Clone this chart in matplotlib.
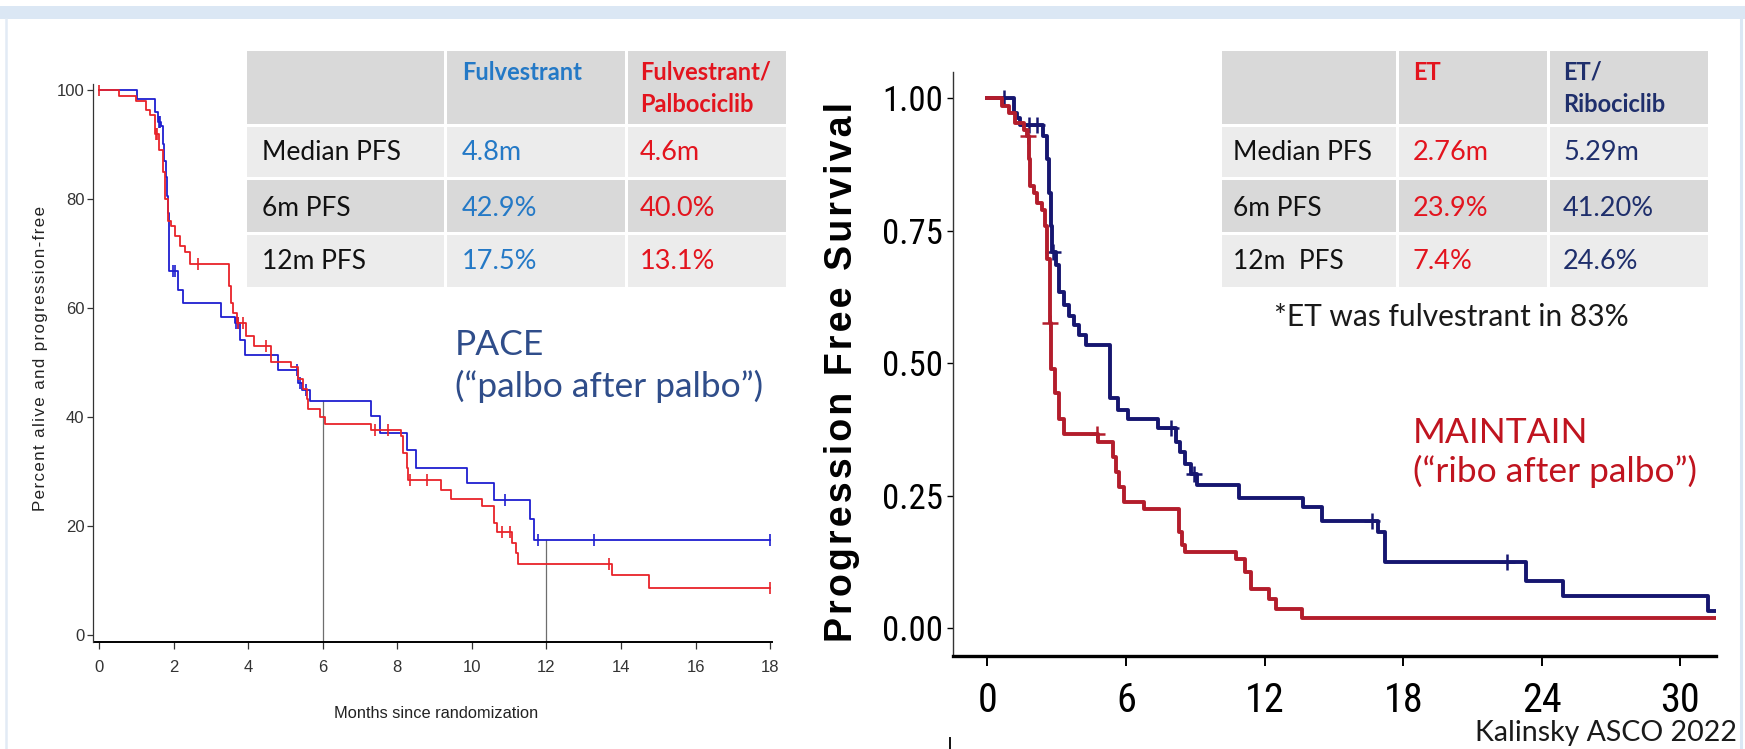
import matplotlib
matplotlib.use("Agg")
import matplotlib.pyplot as plt
from matplotlib import font_manager
from matplotlib.font_manager import FontProperties
from matplotlib.patches import Rectangle
import numpy as np

# ---------------- data ----------------
# PACE: Kaplan-Meier steps (months, percent alive and progression-free)
fulv_months = [0, 1.02, 1.49, 1.58, 1.67, 1.71, 1.75, 1.79, 1.83, 1.86, 1.89, 2.12, 2.25,
               3.28, 3.64, 3.77, 3.91, 4.81, 5.34, 5.45, 5.65, 7.30, 7.54, 8.25, 8.50,
               9.86, 10.60, 11.55, 11.68, 18.0]
fulv_pct = [100, 98.3, 96.0, 94.2, 93.3, 90.0, 87.0, 84.0, 80.5, 77.5, 66.7, 63.3, 60.9,
            58.3, 57.2, 54.1, 51.4, 48.6, 46.2, 45.0, 42.9, 40.2, 37.1, 33.9, 30.7,
            27.8, 24.7, 21.3, 17.5, 17.5]
fulv_censor = [1.60, 1.64, 1.98, 2.05, 3.68, 3.72, 5.30, 5.38, 5.56, 10.90, 11.78, 13.28, 18.0]

palbo_months = [0, 0.55, 1.00, 1.27, 1.36, 1.49, 1.60, 1.71, 1.78, 1.85, 1.92, 2.03, 2.17,
                2.30, 2.43, 3.49, 3.55, 3.60, 3.70, 3.95, 4.17, 4.62, 5.16, 5.34, 5.48,
                5.57, 5.61, 5.92, 6.06, 7.30, 8.10, 8.15, 8.25, 8.30, 9.18, 9.45, 10.27,
                10.59, 10.68, 11.09, 11.19, 11.23, 13.76, 14.74, 18.0]
palbo_pct = [100, 98.9, 98.0, 96.3, 95.4, 92.0, 89.0, 85.0, 80.0, 76.0, 75.0, 73.2, 71.4,
             70.2, 68.0, 64.0, 61.0, 59.1, 57.3, 54.9, 53.0, 50.0, 49.1, 47.0, 45.2,
             43.3, 41.5, 40.0, 38.8, 37.7, 36.6, 33.4, 30.7, 28.4, 26.6, 25.0, 23.6,
             20.6, 18.9, 16.9, 15.0, 13.1, 11.0, 8.7, 8.7]
palbo_censor = [0.0, 1.52, 1.56, 2.65, 3.72, 3.85, 4.49, 7.40, 7.75, 8.33, 8.80, 10.82,
                11.02, 13.69, 18.0]

pace_marks = [6, 12]            # months where landmark lines are drawn
pace_ticks_x = list(range(0, 19, 2))
pace_ticks_y = list(range(0, 101, 20))

# MAINTAIN: Kaplan-Meier steps (months, progression-free survival)
et_months = [0, 0.63, 0.92, 1.21, 1.57, 1.71, 1.79, 1.86, 2.00, 2.15, 2.37, 2.50, 2.60,
             2.69, 2.74, 2.93, 3.08, 3.30, 4.78, 5.43, 5.56, 5.69, 5.90, 6.79, 8.30,
             8.43, 8.56, 10.78, 11.17, 11.43, 12.20, 12.50, 13.60, 31.5]
et_surv = [1.0, 0.986, 0.972, 0.953, 0.940, 0.929, 0.885, 0.835, 0.822, 0.803, 0.790,
           0.760, 0.696, 0.576, 0.490, 0.445, 0.395, 0.367, 0.352, 0.324, 0.295, 0.267,
           0.239, 0.226, 0.182, 0.157, 0.144, 0.131, 0.106, 0.074, 0.056, 0.037, 0.019,
           0.019]
et_censor = [1.74, 2.72, 4.74]

ribo_months = [0, 1.13, 1.27, 1.40, 2.42, 2.56, 2.68, 2.74, 2.80, 2.96, 3.10, 3.31, 3.53,
               3.75, 3.96, 4.25, 5.29, 5.65, 6.10, 7.40, 8.17, 8.35, 8.56, 8.80, 9.08,
               10.90, 13.65, 14.50, 16.90, 17.20, 23.30, 24.90, 31.20, 31.5]
ribo_surv = [1.0, 0.972, 0.962, 0.950, 0.929, 0.885, 0.822, 0.760, 0.710, 0.685, 0.635,
             0.610, 0.590, 0.572, 0.553, 0.534, 0.434, 0.412, 0.395, 0.378, 0.352, 0.333,
             0.311, 0.292, 0.270, 0.246, 0.229, 0.202, 0.182, 0.125, 0.090, 0.062, 0.032,
             0.032]
ribo_censor = [0.73, 1.80, 2.15, 2.85, 7.95, 8.95, 16.66, 22.50]

maintain_ticks_x = list(range(0, 31, 6))
maintain_ticks_y = [0.0, 0.25, 0.50, 0.75, 1.00]

# summary tables
pace_header = ["", "Fulvestrant", "Fulvestrant/\nPalbociclib"]
pace_rows = ["Median PFS", "6m PFS", "12m PFS"]
pace_fulv = ["4.8m", "42.9%", "17.5%"]
pace_combo = ["4.6m", "40.0%", "13.1%"]

maintain_header = ["", "ET", "ET/\nRibociclib"]
maintain_rows = ["Median PFS", "6m PFS", "12m  PFS"]
maintain_et = ["2.76m", "23.9%", "7.4%"]
maintain_combo = ["5.29m", "41.20%", "24.6%"]

# ---------------- styling ----------------
W, H = 1745, 749
available = {f.name for f in font_manager.fontManager.ttflist}
ARIAL = "Liberation Sans"
SLIDE = "Lato" if "Lato" in available else "Open Sans"


def condensed_font():
    """Pick a narrow sans face for the survminer-style tick labels, if one exists."""
    wanted = ["liberationsansnarrow-regular", "notosans-condensed.", "notosans-semicondensed.",
              "robotocondensed-regular", "dejavusanscondensed."]
    files = [f.fname for f in font_manager.fontManager.ttflist]
    for key in wanted:
        for fn in files:
            if key in fn.lower().replace("_", "").replace(" ", ""):
                return fn
    return None


NARROW_FILE = condensed_font()


def tick_font(size):
    if NARROW_FILE:
        return FontProperties(fname=NARROW_FILE, size=size)
    return FontProperties(family=ARIAL, size=size * 0.88)


PACE_BLUE = "#1f1fd0"
PACE_RED = "#e8232a"
MT_RED = "#b31d2c"
MT_NAVY = "#161670"
TAB_BLUE = "#2479c6"
TAB_RED = "#e3141e"
TAB_NAVY = "#1f2f6c"
DARK_CELL = "#d9d9d9"
LIGHT_CELL = "#ececec"
HAIR = "\u200a"

fig = plt.figure(figsize=(W / 100, H / 100), dpi=100, facecolor="white")


def px_rect(x0, y0, x1, y1):
    """Pixel box (origin top-left) to figure fraction rect."""
    return [x0 / W, 1 - y1 / H, (x1 - x0) / W, (y1 - y0) / H]


def step_value(t, times, values):
    i = np.searchsorted(np.asarray(times), t, side="right") - 1
    return values[max(i, 0)]


# ---------------- PACE panel ----------------
axL = fig.add_axes(px_rect(93.4, 84.5, 773.8, 642.1))
axL.set_xlim(-0.15, 18.1)
axL.set_ylim(-1.3, 101)
axL.step(fulv_months, fulv_pct, where="post", color=PACE_BLUE, lw=1.3, zorder=3)
axL.step(palbo_months, palbo_pct, where="post", color=PACE_RED, lw=1.3, zorder=4)
axL.plot(fulv_censor, [step_value(t, fulv_months, fulv_pct) for t in fulv_censor],
         ls="none", marker="|", ms=9, mew=1.2, color=PACE_BLUE, zorder=3)
axL.plot(palbo_censor, [step_value(t, palbo_months, palbo_pct) for t in palbo_censor],
         ls="none", marker="|", ms=9, mew=1.2, color=PACE_RED, zorder=4)
for m in pace_marks:
    axL.plot([m, m], [-1.3, step_value(m, fulv_months, fulv_pct)], color="#6e6e6e",
             lw=0.9, zorder=2)
for s in ("top", "right"):
    axL.spines[s].set_visible(False)
axL.spines["bottom"].set_bounds(-0.12, 18.05)
axL.spines["bottom"].set_linewidth(1.4)
axL.spines["left"].set_linewidth(0.9)
axL.spines["left"].set_color("#333333")
axL.set_xticks(pace_ticks_x)
axL.set_yticks(pace_ticks_y)
axL.tick_params(axis="x", length=5, width=0.9, pad=8, labelsize=12, colors="#333333")
axL.tick_params(axis="y", length=4.5, width=0.9, pad=2, labelsize=12, colors="#333333")
for lab in axL.get_xticklabels() + axL.get_yticklabels():
    lab.set_family(ARIAL)
axL.set_facecolor("none")

# ---------------- MAINTAIN panel ----------------
axR = fig.add_axes(px_rect(953, 72, 1716, 656))
axR.set_xlim(-1.49, 31.54)
axR.set_ylim(-0.052, 1.0496)
axR.step(ribo_months, ribo_surv, where="post", color=MT_NAVY, lw=2.8, zorder=3)
axR.step(et_months, et_surv, where="post", color=MT_RED, lw=2.8, zorder=4)
axR.plot(ribo_censor, [step_value(t, ribo_months, ribo_surv) for t in ribo_censor],
         ls="none", marker="+", ms=11, mew=1.8, color=MT_NAVY, zorder=3)
axR.plot(et_censor, [step_value(t, et_months, et_surv) for t in et_censor],
         ls="none", marker="+", ms=11, mew=1.8, color=MT_RED, zorder=4)
for s in ("top", "right"):
    axR.spines[s].set_visible(False)
axR.spines["bottom"].set_linewidth(2.4)
axR.spines["bottom"].set_color("black")
axR.spines["left"].set_linewidth(1.0)
axR.spines["left"].set_color("#333333")
axR.set_xticks(maintain_ticks_x)
axR.set_yticks(maintain_ticks_y)
axR.set_yticklabels([f"{v:.2f}" for v in maintain_ticks_y])
axR.tick_params(axis="x", length=7, width=1.4, pad=11, colors="black")
axR.tick_params(axis="y", length=4, width=1.0, pad=3, colors="black")
for lab in axR.get_xticklabels():
    lab.set_fontproperties(tick_font(29))
for lab in axR.get_yticklabels():
    lab.set_fontproperties(tick_font(25))
axR.set_facecolor("none")

# ---------------- overlay (tables, captions, slide frame) ----------------
ov = fig.add_axes([0, 0, 1, 1], zorder=5)
ov.set_xlim(0, W)
ov.set_ylim(H, 0)
ov.axis("off")

# slide frame
ov.add_patch(Rectangle((0, 6), W, 13, facecolor="#dbe7f4", edgecolor="none"))
ov.plot([6, 6], [19, H], color="#e2ebf5", lw=1.8)
ov.plot([1741, 1741], [19, H], color="#dbe7f4", lw=2.2)
ov.plot([950, 950], [738, H], color="#111111", lw=1.4)

# axis titles
ov.text(41, 358, HAIR.join("Percent alive and progression-free"), rotation=90,
        ha="center", va="center", fontsize=12.2, family=[ARIAL, "DejaVu Sans"],
        color="#222222")
ov.text(436, 713, "Months since randomization", ha="center", va="center",
        fontsize=11.8, family=ARIAL, color="#222222")
ov.text(842, 372, HAIR.join("Progression Free Survival"), rotation=90,
        ha="center", va="center", fontsize=27, fontweight="bold",
        family=[ARIAL, "DejaVu Sans"], color="black")

ROW_EDGES = [49, 125, 178, 233, 288]
ROW_SHADES = [DARK_CELL, LIGHT_CELL, DARK_CELL, LIGHT_CELL]
HEAD_BASE = [80, 112]
BODY_BASE = [160, 215.5, 269]


def draw_table(col_edges, header, rows, col1, col2, colors, text_x):
    gap = 1.5
    for r in range(4):
        for c in range(3):
            x0, x1 = col_edges[c], col_edges[c + 1]
            y0, y1 = ROW_EDGES[r], ROW_EDGES[r + 1]
            ov.add_patch(Rectangle((x0 + gap, y0 + gap), x1 - x0 - 2 * gap,
                                   y1 - y0 - 2 * gap, facecolor=ROW_SHADES[r],
                                   edgecolor="none"))
    for c in (1, 2):
        for k, line in enumerate(header[c].split("\n")):
            ov.text(text_x[c], HEAD_BASE[k], line, ha="left", va="baseline",
                    fontsize=17, fontweight="bold", family=SLIDE, color=colors[c])
    for r in range(3):
        ov.text(text_x[0], BODY_BASE[r], rows[r], ha="left", va="baseline",
                fontsize=19, family=SLIDE, color="#111111")
        ov.text(text_x[1], BODY_BASE[r], col1[r], ha="left", va="baseline",
                fontsize=19.5, family=SLIDE, color=colors[1])
        ov.text(text_x[2], BODY_BASE[r], col2[r], ha="left", va="baseline",
                fontsize=19.5, family=SLIDE, color=colors[2])


draw_table([246, 446, 627, 788], pace_header, pace_rows, pace_fulv, pace_combo,
           [None, TAB_BLUE, TAB_RED], [262, 462, 640])
draw_table([1221, 1398, 1549, 1710], maintain_header, maintain_rows, maintain_et,
           maintain_combo, [None, TAB_RED, TAB_NAVY], [1233, 1413, 1563])

# study captions
ov.text(455, 355, "PACE", ha="left", va="baseline", fontsize=25.5, family=SLIDE,
        color="#2f4d8a")
ov.text(455, 397, "(\u201cpalbo after palbo\u201d)", ha="left", va="baseline",
        fontsize=25.5, family=SLIDE, color="#2f4d8a")
ov.text(1413, 443, "MAINTAIN", ha="left", va="baseline", fontsize=25.5, family=SLIDE,
        color="#c0141f")
ov.text(1413, 482, "(\u201cribo after palbo\u201d)", ha="left", va="baseline",
        fontsize=25.5, family=SLIDE, color="#c0141f")
ov.text(1451, 317, "*ET was fulvestrant in 83%", ha="center", va="center",
        fontsize=21.5, family=SLIDE, color="#1a1a1a")
ov.text(1737, 733, "Kalinsky ASCO 2022", ha="right", va="center", fontsize=20.5,
        family=SLIDE, color="#1a1a1a")

fig.savefig("out.png", dpi=100, facecolor="white")
